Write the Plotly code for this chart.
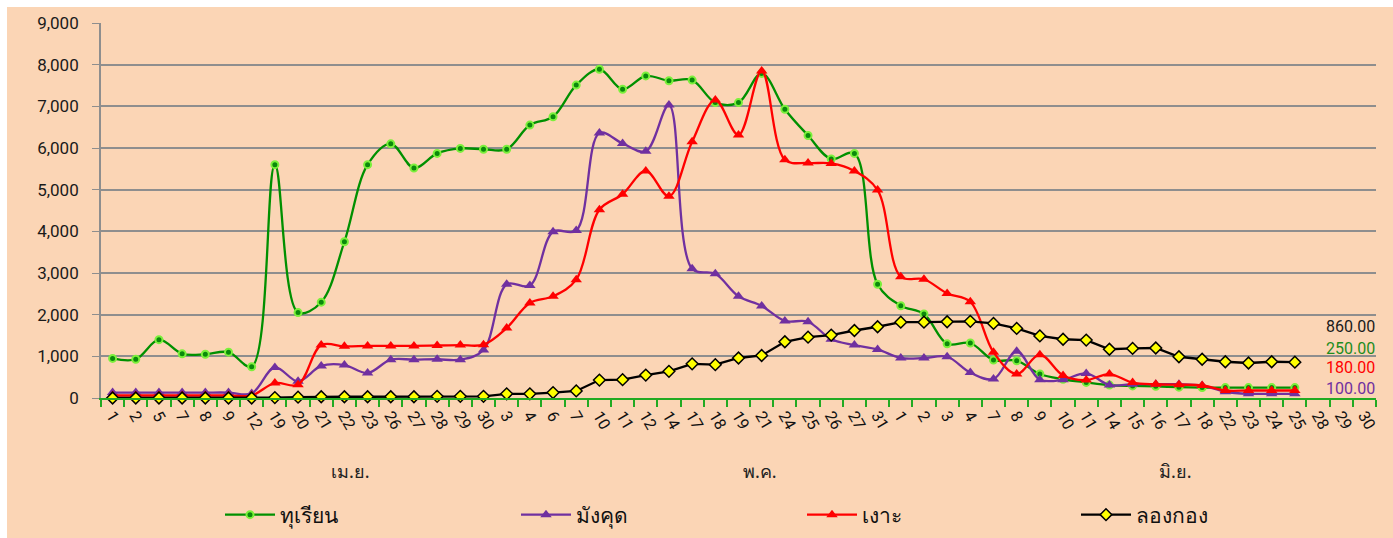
import plotly.graph_objects as go

# ---------------- data ----------------
apr_days = ["1", "2", "5", "7", "8", "9", "12", "19", "20", "21", "22", "23", "26", "27", "28", "29", "30"]
may_days = ["3", "4", "6", "7", "10", "11", "12", "14", "17", "18", "19", "21", "24", "25", "26", "27", "31"]
jun_days = ["1", "2", "3", "4", "7", "8", "9", "10", "11", "14", "15", "16", "17", "18", "22", "23", "24", "25", "28", "29", "30"]
month_names = ["เม.ย.", "พ.ค.", "มิ.ย."]
series_names = ["ทุเรียน", "มังคุด", "เงาะ", "ลองกอง"]

durian = [950, 930, 1400, 1060, 1050, 1100, 750, 5600, 2050, 2300, 3750, 5600, 6100, 5520, 5870, 5990, 5970,
          5970, 6550, 6750, 7510, 7890, 7410, 7730, 7615, 7630, 7090, 7090, 7790, 6930, 6300, 5735, 5870, 2730,
          2215, 2015, 1300, 1320, 910, 895, 575, 450, 375, 310, 290, 280, 260, 250, 250, 250, 250, 250]
mangosteen = [130, 130, 130, 130, 130, 130, 110, 735, 400, 770, 790, 600, 920, 920, 930, 920, 1150,
              2730, 2700, 3990, 4020, 6360, 6110, 5920, 7030, 3100, 2980, 2440, 2210, 1850, 1830, 1410, 1270, 1165,
              960, 960, 990, 610, 455, 1120, 440, 440, 590, 310, 330, 330, 330, 300, 150, 100, 100, 100]
rambutan = [60, 60, 60, 60, 60, 60, 60, 360, 320, 1270, 1240, 1250, 1250, 1250, 1260, 1270, 1280,
            1680, 2280, 2440, 2840, 4520, 4890, 5450, 4840, 6150, 7150, 6310, 7850, 5720, 5640, 5630, 5450, 4990,
            2910, 2850, 2510, 2310, 1100, 575, 1040, 540, 430, 575, 370, 330, 320, 300, 180, 180, 180, 180]
longkong = [0, 0, 0, 0, 0, 0, 0, 10, 20, 30, 30, 30, 30, 30, 40, 40, 40,
            100, 100, 130, 170, 430, 440, 550, 640, 820, 800, 960, 1020, 1350, 1460, 1510, 1620, 1710,
            1820, 1820, 1830, 1840, 1790, 1670, 1490, 1410, 1390, 1170, 1190, 1200, 990, 930, 870, 840, 870, 860]
end_labels = ["860.00", "250.00", "180.00", "100.00"]

# ---------------- build ----------------
cats = list(range(len(apr_days) + len(may_days) + len(jun_days)))
tick_text = apr_days + may_days + jun_days
xs = cats[:len(durian)]

BG = "#FBD5B5"
W, H = 1393, 538
L, R, T, B = 101, 1376, 23, 398
PW, PH = R - L, B - T

def px(x):
    return (x - L) / PW

def py(y):
    return (B - y) / PH

fig = go.Figure()

styles = [
    dict(name=series_names[0], y=durian, line=dict(color="#009000", width=2.3, shape="spline", smoothing=1),
         marker=dict(symbol="circle", size=7, color="#0A8A0A", line=dict(color="#7CF03C", width=2)), legend="legend"),
    dict(name=series_names[1], y=mangosteen, line=dict(color="#7030A0", width=2.3, shape="spline", smoothing=1),
         marker=dict(symbol="triangle-up", size=10, color="#7030A0"), legend="legend2"),
    dict(name=series_names[2], y=rambutan, line=dict(color="#FF0000", width=2.3, shape="spline", smoothing=1),
         marker=dict(symbol="triangle-up", size=10, color="#FF0000"), legend="legend3"),
    dict(name=series_names[3], y=longkong, line=dict(color="#000000", width=2.3),
         marker=dict(symbol="diamond", size=9, color="#FFFF00", line=dict(color="#000000", width=1.5)), legend="legend4"),
]
for s in styles:
    fig.add_trace(go.Scatter(x=xs, y=s["y"], mode="lines+markers", name=s["name"], line=s["line"],
                             marker=s["marker"], legend=s["legend"], cliponaxis=False))

leg_font = dict(family="Noto Sans, DejaVu Sans, sans-serif", size=21, color="#111111")
leg_x = [220, 516, 802, 1076]
leg_common = dict(orientation="h", yanchor="middle", xanchor="left", bgcolor="rgba(0,0,0,0)",
                  font=leg_font, itemwidth=50, tracegroupgap=0)
fig.update_layout(
    legend=dict(x=px(leg_x[0]), y=py(515), **leg_common),
    legend2=dict(x=px(leg_x[1]), y=py(515), **leg_common),
    legend3=dict(x=px(leg_x[2]), y=py(515), **leg_common),
    legend4=dict(x=px(leg_x[3]), y=py(515), **leg_common),
)

# background panel with thin white border at top/left
fig.add_shape(type="rect", xref="paper", yref="paper", x0=px(7), x1=px(W + 5), y0=py(H + 5), y1=py(7),
              fillcolor=BG, line=dict(width=0), layer="below")

# month labels
month_x = [350, 760, 1175]
for name, mx in zip(month_names, month_x):
    fig.add_annotation(x=px(mx), y=py(471), xref="paper", yref="paper", text=name, showarrow=False,
                       font=dict(family="Noto Sans, DejaVu Sans, sans-serif", size=18, color="#222222"),
                       xanchor="center", yanchor="middle")

# end value labels
end_colors = ["#1A1A1A", "#1E8C1E", "#FF0000", "#7030A0"]
end_y = [326, 348, 367, 388]
for txt, c, yy in zip(end_labels, end_colors, end_y):
    fig.add_annotation(x=1.0, y=py(yy), xref="paper", yref="paper", text=txt, showarrow=False,
                       font=dict(family="Roboto, sans-serif", size=16, color=c),
                       xanchor="right", yanchor="middle", borderpad=0)

fig.update_xaxes(
    type="linear", range=[-0.5, len(cats) - 0.5], tickmode="array", tickvals=cats, ticktext=tick_text,
    tickangle=60, tickfont=dict(family="Roboto, sans-serif", size=16, color="#111111"),
    showgrid=False, zeroline=False, showline=True, linecolor="#22AA22", linewidth=2,
    ticks="", fixedrange=True, automargin=False,
)
# green tick marks between categories via minor ticks
fig.update_xaxes(minor=dict(tickmode="array", tickvals=[c - 0.5 for c in cats] + [len(cats) - 0.5],
                            ticks="outside", ticklen=7, tickcolor="#22AA22", tickwidth=2, showgrid=False))

fig.update_yaxes(
    range=[0, 9000], tickmode="linear", dtick=1000, tickformat=",",
    tickfont=dict(family="Roboto, sans-serif", size=17, color="#1A1A1A"),
    showgrid=True, gridcolor="#8E8E8E", gridwidth=1.8, zeroline=False,
    showline=True, linecolor="#8E8E8E", linewidth=1.8, ticks="outside", ticklen=7, tickcolor="#8E8E8E",
    ticklabelstandoff=10, automargin=False,
)

fig.update_layout(
    width=W, height=H, autosize=False,
    margin=dict(l=L, r=W - R, t=T, b=H - B, pad=0, autoexpand=False),
    paper_bgcolor="white", plot_bgcolor="rgba(0,0,0,0)",
    showlegend=True,
)

fig.write_html("out.html", config={"displayModeBar": False},
               post_script="document.body.style.margin='0px';")
